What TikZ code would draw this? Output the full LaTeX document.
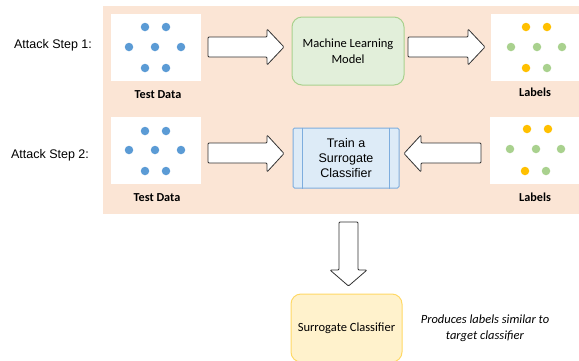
\documentclass[tikz,border=0pt]{standalone}
\usepackage{fontspec}
\setmainfont{Carlito}
\newfontfamily\arialfont{Liberation Sans}
\definecolor{peach}{RGB}{251,229,213}
\definecolor{dotblue}{RGB}{91,155,213}
\definecolor{dotgreen}{RGB}{169,209,142}
\definecolor{dotyellow}{RGB}{255,192,0}
\definecolor{mlfill}{RGB}{226,239,218}
\definecolor{mlborder}{RGB}{169,209,142}
\definecolor{trfill}{RGB}{221,235,247}
\definecolor{trborder}{RGB}{125,173,222}
\definecolor{sgfill}{RGB}{255,242,204}
\definecolor{sgborder}{RGB}{255,217,102}
\definecolor{arrline}{RGB}{50,50,50}
\tikzset{
  databox/.style={draw=none,fill=white,minimum width=90pt,minimum height=67pt,inner sep=0pt},
  dotb/.style={circle,fill=dotblue,minimum size=8.5pt,inner sep=0pt},
  dotg/.style={circle,fill=dotgreen,minimum size=8.5pt,inner sep=0pt},
  doty/.style={circle,fill=dotyellow,minimum size=8.5pt,inner sep=0pt},
  caption/.style={font=\bfseries\fontsize{12.2}{14}\selectfont,inner sep=0pt},
  steplabel/.style={font=\arialfont\fontsize{12.5}{15}\selectfont,inner sep=0pt},
  blockarrow/.style={draw=arrline,fill=white,line width=0.8pt,rounded corners=1pt,line join=round},
  mlbox/.style={draw=mlborder,fill=mlfill,line width=1pt,rounded corners=10pt,minimum width=112pt,minimum height=68pt,align=center,font=\fontsize{12.5}{16}\selectfont,inner sep=0pt},
  trbox/.style={draw=trborder,fill=trfill,line width=1pt,rounded corners=1.5pt,minimum width=106pt,minimum height=60pt,align=center,font=\arialfont\fontsize{12.5}{15}\selectfont,inner sep=0pt},
  sgbox/.style={draw=sgborder,fill=sgfill,line width=1pt,rounded corners=10pt,minimum width=111pt,minimum height=68pt,align=center,font=\fontsize{12.5}{16}\selectfont,inner sep=0pt},
  note/.style={font=\itshape\fontsize{12.5}{16}\selectfont,align=center,inner sep=0pt}
}
\begin{document}
\begin{tikzpicture}[x=1pt,y=-1pt]
\clip (0,0) rectangle (579,360);
\fill[white] (0,0) rectangle (579,360);
\fill[peach] (103,6) rectangle (585,214);

% step labels
\node[steplabel] (s1) at (53,45) {Attack Step 1:};
\node[steplabel] (s2) at (50,155) {Attack Step 2:};

% row 1
\node[databox] (td1) at (156,47.5) {};
\node[dotb] at (145,27) {}; \node[dotb] at (166,27) {};
\node[dotb] at (129,47) {}; \node[dotb] at (155,47) {}; \node[dotb] at (181,47) {};
\node[dotb] at (145,68) {}; \node[dotb] at (166,68) {};
\node[caption] (td1c) at (158,95) {Test Data};

\node[mlbox] (ml) at (348,51) {Machine Learning\\Model};

\node[databox,minimum width=94pt] (lb1) at (538,47.5) {};
\node[doty] at (526,27) {}; \node[doty] at (547,27) {};
\node[dotg] at (511,47) {}; \node[dotg] at (537,47) {}; \node[dotg] at (562,47) {};
\node[doty] at (526,68) {}; \node[dotg] at (547,68) {};
\node[caption] (lb1c) at (535,92) {Labels};

% row 2
\node[databox] (td2) at (156,150.5) {};
\node[dotb] at (145,131) {}; \node[dotb] at (166,131) {};
\node[dotb] at (129,150) {}; \node[dotb] at (155,150) {}; \node[dotb] at (181,150) {};
\node[dotb] at (145,171) {}; \node[dotb] at (166,171) {};
\node[caption] (td2c) at (157,198) {Test Data};

\node[trbox] (tr) at (346,158) {Train a\\Surrogate\\Classifier};
\draw[trborder,line width=1pt] ([xshift=10pt]tr.north west) -- ([xshift=10pt]tr.south west);
\draw[trborder,line width=1pt] ([xshift=-10pt]tr.north east) -- ([xshift=-10pt]tr.south east);

\node[databox,minimum width=95pt] (lb2) at (537.5,150.5) {};
\node[doty] at (527,129) {}; \node[doty] at (548,129) {};
\node[dotg] at (510,149) {}; \node[dotg] at (536,149) {}; \node[dotg] at (561,149) {};
\node[doty] at (525,171) {}; \node[dotg] at (546,171) {};
\node[caption] (lb2c) at (535,197) {Labels};

% result
\node[sgbox] (sg) at (346.5,328) {Surrogate Classifier};
\node[note] (nt) at (485,328) {Produces labels similar to\\target classifier};

% block arrows
\draw[blockarrow] (208,37) -- (267,37) -- (267,29) -- (284,47) -- (267,65) -- (267,57) -- (208,57) -- cycle;
\draw[blockarrow] (408,37) -- (468,37) -- (468,29) -- (485,47) -- (468,65) -- (468,57) -- (408,57) -- cycle;
\draw[blockarrow] (208,143) -- (267,143) -- (267,135) -- (284,153.5) -- (267,172) -- (267,163) -- (208,163) -- cycle;
\draw[blockarrow] (481,143) -- (421,143) -- (421,135) -- (404,153.5) -- (421,172) -- (421,163) -- (481,163) -- cycle;
\draw[blockarrow] (339,222) -- (358,222) -- (358,270) -- (367,270) -- (348.5,286) -- (330,270) -- (339,270) -- cycle;
\end{tikzpicture}
\end{document}
